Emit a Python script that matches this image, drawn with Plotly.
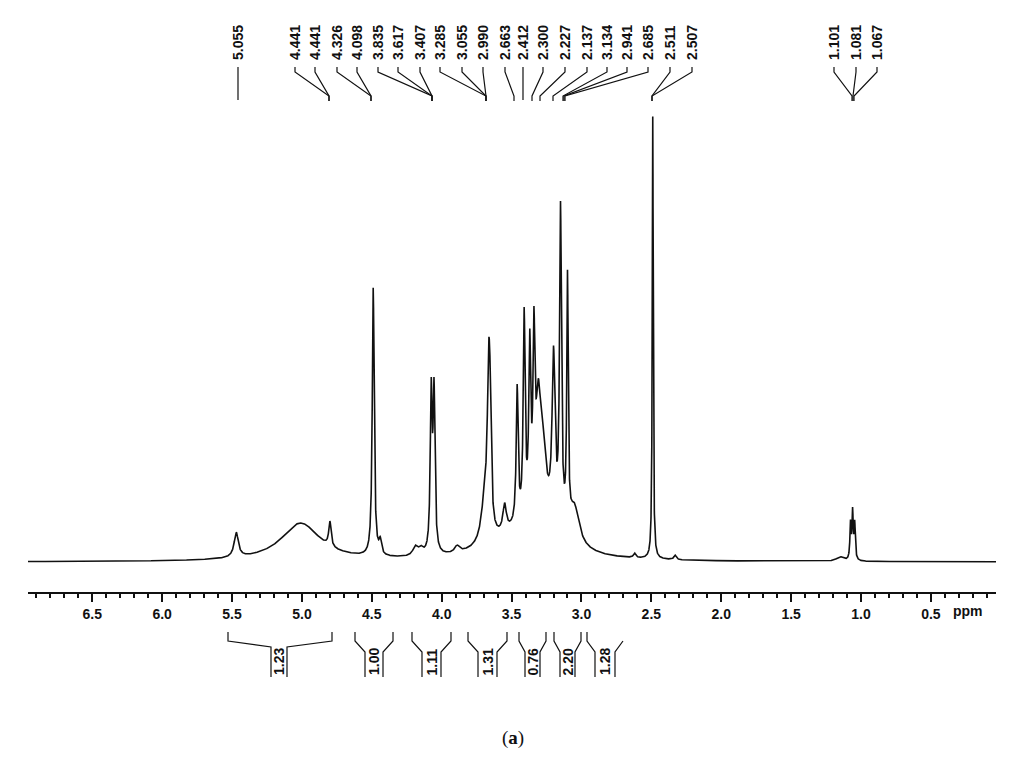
import numpy as np
import plotly.graph_objects as go

# ---- data ----
peak_ppm    = [5.47, 5.01, 4.80, 4.49, 4.44, 4.19, 4.15, 4.075, 4.055, 3.89, 3.69, 3.665, 3.655, 3.55, 3.46, 3.41, 3.37, 3.34, 3.31, 3.28, 3.20, 3.15, 3.10, 3.05, 2.62, 2.49, 2.33, 1.15, 1.075, 1.06, 1.045]
peak_height = [0.055, 0.085, 0.055, 0.60, 0.03, 0.02, 0.015, 0.35, 0.35, 0.015, 0.10, 0.27, 0.24, 0.06, 0.30, 0.45, 0.36, 0.36, 0.21, 0.15, 0.36, 0.70, 0.55, 0.08, 0.01, 0.99, 0.01, 0.01, 0.08, 0.105, 0.08]
peak_hwhm   = [0.018, 0.17, 0.010, 0.008, 0.01, 0.02, 0.02, 0.008, 0.008, 0.02, 0.03, 0.01, 0.01, 0.015, 0.008, 0.008, 0.008, 0.008, 0.02, 0.03, 0.012, 0.008, 0.006, 0.04, 0.01, 0.004, 0.01, 0.03, 0.005, 0.005, 0.005]
hump_ppm, hump_height, hump_hwhm = [3.45, 3.25], [0.05, 0.05], [0.25, 0.15]

top_labels = ["5.055", "4.441", "4.441", "4.326", "4.098", "3.835", "3.617", "3.407", "3.285", "3.055", "2.990",
              "2.663", "2.412", "2.300", "2.227", "2.137", "3.134", "2.941", "2.685", "2.511", "2.507",
              "1.101", "1.081", "1.067"]
integrals = ["1.23", "1.00", "1.11", "1.31", "0.76", "2.20", "1.28"]
tick_vals = [6.5, 6.0, 5.5, 5.0, 4.5, 4.0, 3.5, 3.0, 2.5, 2.0, 1.5, 1.0, 0.5]

# ---- spectrum ----
x = np.linspace(6.96, 0.034, 14000)
y = np.zeros_like(x)
for c, h, w in zip(peak_ppm + hump_ppm, peak_height + hump_height, peak_hwhm + hump_hwhm):
    y += h * w**2 / ((x - c)**2 + w**2)

W, H = 1026, 762
L, R, T, B = 28, 30, 0, 170
pw, ph = W - L - R, H - T - B
def px(xp): return (xp - L) / pw
def py(yp): return 1 - (yp - T) / ph

FONT = "Liberation Sans, Arial"
fig = go.Figure(go.Scatter(x=x, y=y, mode="lines", line=dict(color="#111", width=1.6), hoverinfo="skip"))

shapes, ann = [], []
def seg(pts):
    path = "M " + " L ".join(f"{px(a):.5f},{py(b):.5f}" for a, b in pts)
    shapes.append(dict(type="path", path=path, xref="paper", yref="paper",
                       line=dict(color="#111", width=1.2)))
def text(t, xp, yp, size, angle=0, family=FONT):
    ann.append(dict(text=t, x=px(xp), y=py(yp), xref="paper", yref="paper", textangle=angle,
                    xanchor="center", yanchor="middle", showarrow=False,
                    font=dict(family=family, size=size, color="#111")))

label_x = [238, 295, 315, 337, 357, 378, 398, 420, 440, 462, 483, 505, 523, 543, 565, 587, 607, 627, 648, 670, 692, 834, 856, 877]
target_x = [238, 329, 329, 371, 371, 432, 432, 432, 486, 486, 486, 514, 523, 532, 540, 553, 563, 564, 565, 652, 652, 852, 853, 854]
for t, lx, tx in zip(top_labels, label_x, target_x):
    text(f"<b>{t}</b>", lx, 43, 14, -90)
    if lx == tx:
        seg([(lx, 67), (lx, 100)])
    else:
        seg([(lx, 67), (lx, 72), (tx, 96), (tx, 101)])

brackets = [(228, 271, 287, 332), (355, 365, 383, 393), (412, 422, 441, 451), (468, 478, 497, 507),
            (519, 525, 540, 546), (554, 560, 575, 581), (587, 595, 615, 623)]
for i, (lo, li, ri, ro) in enumerate(brackets):
    k2 = 647 if i == 0 else 652
    seg([(lo, 632), (lo, 641), (li, k2), (li, 677)])
    if i == 6:
        seg([(ri, 677), (ri, k2), (ro, 641)])
    else:
        seg([(ri, 677), (ri, k2), (ro, 641), (ro, 632)])
    text(f"<b>{integrals[i]}</b>", (li + ri) / 2, 662, 14, -90)

text("<b>ppm</b>", 968, 611, 14)
text("(<b>a</b>)", 513, 738, 19, family="Liberation Serif, Times New Roman")

fig.update_layout(
    width=W, height=H, margin=dict(l=L, r=R, t=T, b=B, autoexpand=False),
    paper_bgcolor="white", plot_bgcolor="white", showlegend=False,
    shapes=shapes, annotations=ann,
    xaxis=dict(range=[6.96, 0.034], tickvals=tick_vals, ticktext=[f"<b>{v:.1f}</b>" for v in tick_vals],
               ticks="outside", ticklen=8, tickwidth=1.5, tickcolor="#111", automargin=False,
               minor=dict(dtick=0.1, ticks="outside", ticklen=4, tickcolor="#111"),
               showline=True, linecolor="#111", linewidth=1.5, showgrid=False, zeroline=False,
               tickfont=dict(family=FONT, size=14, color="#111")),
    yaxis=dict(range=[-0.0671, 1.2573], visible=False, showgrid=False, zeroline=False, automargin=False),
)
fig.write_html("out.html", config={"displayModeBar": False})
with open("out.html", encoding="utf-8") as f:
    html = f.read()
html = html.replace("<head>", "<head><style>html,body{margin:0;padding:0;overflow:hidden}</style>", 1)
with open("out.html", "w", encoding="utf-8") as f:
    f.write(html)
